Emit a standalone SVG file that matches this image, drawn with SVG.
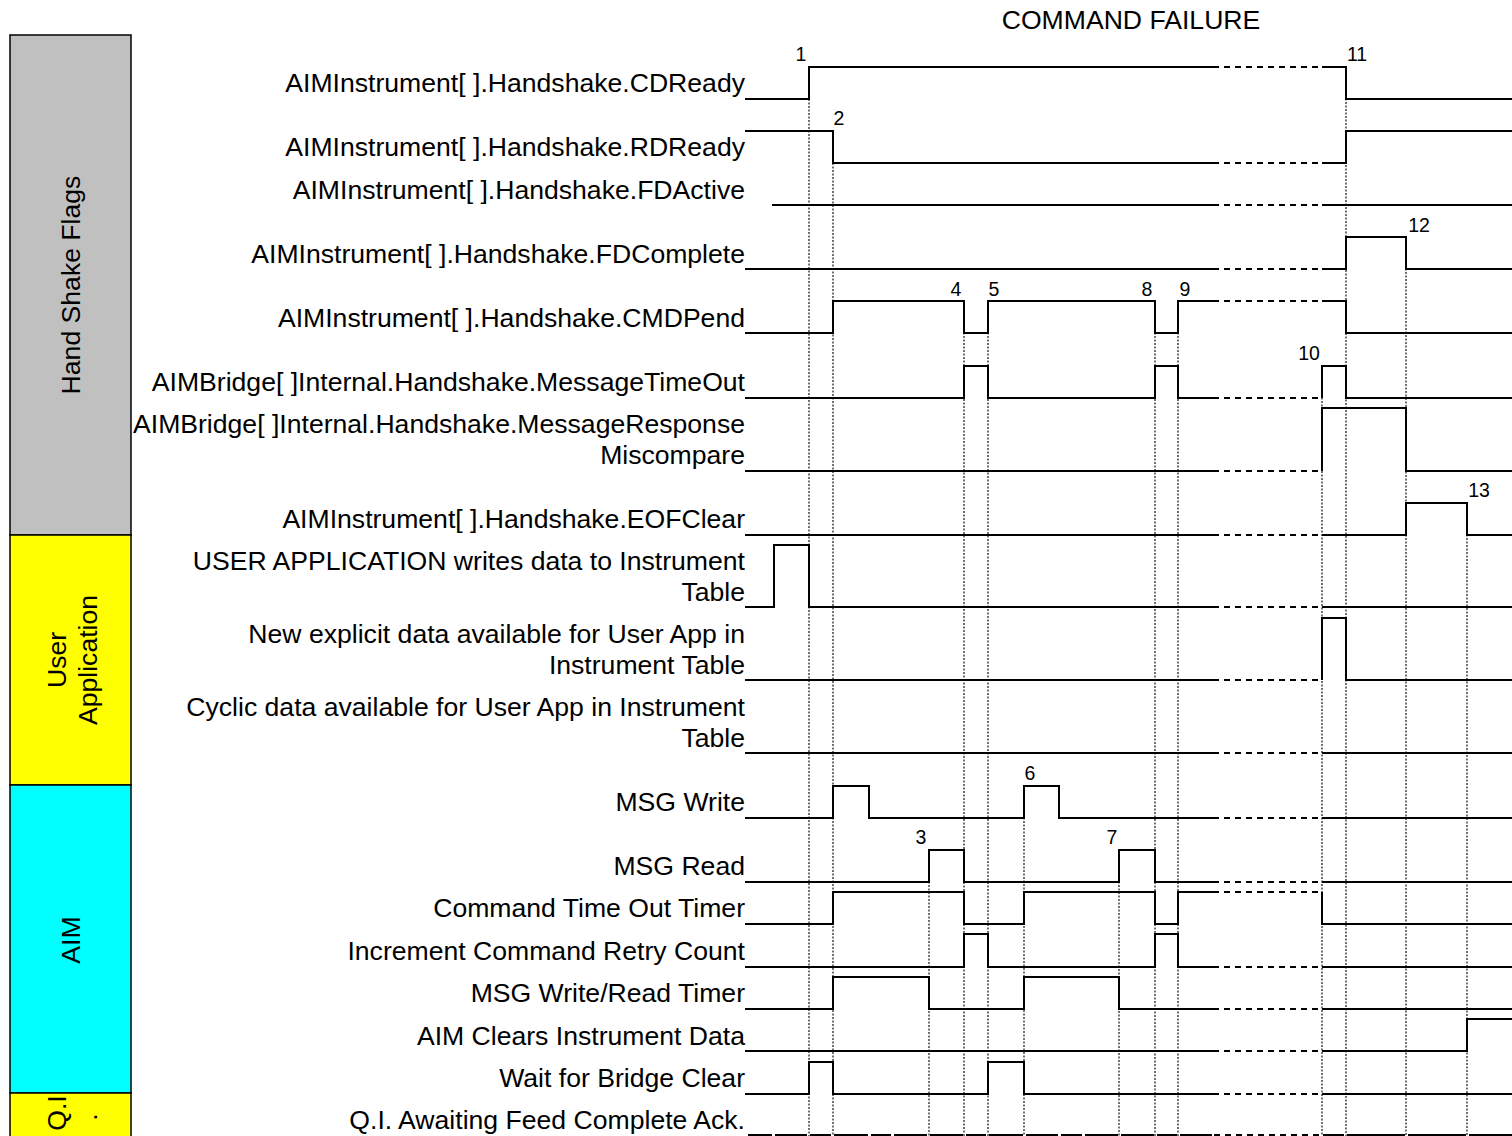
<svg xmlns="http://www.w3.org/2000/svg" width="1512" height="1136" viewBox="0 0 1512 1136">
<style>
.sig{fill:none;stroke:#000;stroke-width:2}
.brk{fill:none;stroke:#000;stroke-width:2;stroke-dasharray:6 5}
.grid{fill:none;stroke:#444;stroke-width:1.5;stroke-dasharray:2 1.5}
.lbl{font-family:"Liberation Sans",Arial,sans-serif;font-size:26.6px;text-anchor:end;fill:#000}
.side{font-family:"Liberation Sans",Arial,sans-serif;font-size:26.6px;text-anchor:middle;fill:#000}
.num{font-family:"Liberation Sans",Arial,sans-serif;font-size:19.5px;text-anchor:middle;fill:#000}
.band{stroke:#000;stroke-width:1.5}
</style>
<rect width="1512" height="1136" fill="#fff"/>

<g id="sidebar">
  <rect class="band" x="10" y="35" width="121" height="500" fill="#c0c0c0"/>
  <rect class="band" x="10" y="535" width="121" height="250" fill="#ffff00"/>
  <rect class="band" x="10" y="785" width="121" height="308" fill="#00ffff"/>
  <rect class="band" x="10" y="1093" width="121" height="44" fill="#ffff00"/>
  <text class="side" transform="translate(80,285) rotate(-90)">Hand Shake Flags</text>
  <text class="side" transform="translate(66,660) rotate(-90)">User</text>
  <text class="side" transform="translate(97,660) rotate(-90)">Application</text>
  <text class="side" transform="translate(80,940) rotate(-90)">AIM</text>
  <text class="side" transform="translate(66,1113) rotate(-90)">Q.I</text>
  <text class="side" transform="translate(97,1117) rotate(-90)">.</text>
</g>

<text id="title" x="1131" y="29" font-family="Liberation Sans, Arial, sans-serif" font-size="26.6" text-anchor="middle">COMMAND FAILURE</text>

<g id="gridlines">
  <path class="grid" d="M809,99V1136 M833,163V1136 M929,850V1136 M964,301V1136 M988,301V1136 M1024,786V1136 M1119,850V1136 M1155,301V1136 M1178,301V1136 M1322,366V1136 M1346,67V1136 M1406,237V1136 M1467,503V1136"/>
</g>

<g id="sig-cdready">
  <text class="lbl" x="745" y="92">AIMInstrument[ ].Handshake.CDReady</text>
  <path class="sig" d="M745,99H809V67H1213"/><path class="brk" d="M1213,67H1322"/><path class="sig" d="M1322,67H1346V99H1512"/>
</g>
<g id="sig-rdready">
  <text class="lbl" x="745" y="156">AIMInstrument[ ].Handshake.RDReady</text>
  <path class="sig" d="M745,131H833V163H1213"/><path class="brk" d="M1213,163H1322"/><path class="sig" d="M1322,163H1346V131H1512"/>
</g>
<g id="sig-fdactive">
  <text class="lbl" x="745" y="199">AIMInstrument[ ].Handshake.FDActive</text>
  <path class="sig" d="M772,205H1213"/><path class="brk" d="M1213,205H1322"/><path class="sig" d="M1322,205H1512"/>
</g>
<g id="sig-fdcomplete">
  <text class="lbl" x="745" y="263">AIMInstrument[ ].Handshake.FDComplete</text>
  <path class="sig" d="M745,269H1213"/><path class="brk" d="M1213,269H1322"/><path class="sig" d="M1322,269H1346V237H1406V269H1512"/>
</g>
<g id="sig-cmdpend">
  <text class="lbl" x="745" y="327">AIMInstrument[ ].Handshake.CMDPend</text>
  <path class="sig" d="M745,333H833V301H964V333H988V301H1155V333H1178V301H1213"/><path class="brk" d="M1213,301H1322"/><path class="sig" d="M1322,301H1346V333H1512"/>
</g>
<g id="sig-timeout">
  <text class="lbl" x="745" y="391">AIMBridge[ ]Internal.Handshake.MessageTimeOut</text>
  <path class="sig" d="M745,398H964V366H988V398H1155V366H1178V398H1213"/><path class="brk" d="M1213,398H1322"/><path class="sig" d="M1322,398V366H1346V398H1512"/>
</g>
<g id="sig-miscompare">
  <text class="lbl" x="745" y="433">AIMBridge[ ]Internal.Handshake.MessageResponse</text>
  <text class="lbl" x="745" y="464">Miscompare</text>
  <path class="sig" d="M745,471H1213"/><path class="brk" d="M1213,471H1322"/><path class="sig" d="M1322,471V408H1406V471H1512"/>
</g>
<g id="sig-eofclear">
  <text class="lbl" x="745" y="528">AIMInstrument[ ].Handshake.EOFClear</text>
  <path class="sig" d="M745,535H1213"/><path class="brk" d="M1213,535H1322"/><path class="sig" d="M1322,535H1406V503H1467V535H1512"/>
</g>
<g id="sig-userwrite">
  <text class="lbl" x="745" y="570">USER APPLICATION writes data to Instrument</text>
  <text class="lbl" x="745" y="601">Table</text>
  <path class="sig" d="M745,607H774V545H809V607H1213"/><path class="brk" d="M1213,607H1322"/><path class="sig" d="M1322,607H1512"/>
</g>
<g id="sig-explicit">
  <text class="lbl" x="745" y="643">New explicit data available for User App in</text>
  <text class="lbl" x="745" y="674">Instrument Table</text>
  <path class="sig" d="M745,680H1213"/><path class="brk" d="M1213,680H1322"/><path class="sig" d="M1322,680V618H1346V680H1512"/>
</g>
<g id="sig-cyclic">
  <text class="lbl" x="745" y="716">Cyclic data available for User App in Instrument</text>
  <text class="lbl" x="745" y="747">Table</text>
  <path class="sig" d="M745,753H1213"/><path class="brk" d="M1213,753H1322"/><path class="sig" d="M1322,753H1512"/>
</g>
<g id="sig-msgwrite">
  <text class="lbl" x="745" y="811">MSG Write</text>
  <path class="sig" d="M745,818H833V786H869V818H1024V786H1059V818H1213"/><path class="brk" d="M1213,818H1322"/><path class="sig" d="M1322,818H1512"/>
</g>
<g id="sig-msgread">
  <text class="lbl" x="745" y="875">MSG Read</text>
  <path class="sig" d="M745,882H929V850H964V882H1119V850H1155V882H1213"/><path class="brk" d="M1213,882H1322"/><path class="sig" d="M1322,882H1512"/>
</g>
<g id="sig-cmdtimer">
  <text class="lbl" x="745" y="917">Command Time Out Timer</text>
  <path class="sig" d="M745,924H833V892H964V924H1024V892H1155V924H1178V892H1213"/><path class="brk" d="M1213,892H1322"/><path class="sig" d="M1322,892V924H1512"/>
</g>
<g id="sig-retry">
  <text class="lbl" x="745" y="960">Increment Command Retry Count</text>
  <path class="sig" d="M745,967H964V934H988V967H1155V934H1178V967H1213"/><path class="brk" d="M1213,967H1322"/><path class="sig" d="M1322,967H1512"/>
</g>
<g id="sig-wrtimer">
  <text class="lbl" x="745" y="1002">MSG Write/Read Timer</text>
  <path class="sig" d="M745,1009H833V977H929V1009H1024V977H1119V1009H1213"/><path class="brk" d="M1213,1009H1322"/><path class="sig" d="M1322,1009H1512"/>
</g>
<g id="sig-aimclears">
  <text class="lbl" x="745" y="1045">AIM Clears Instrument Data</text>
  <path class="sig" d="M745,1051H1213"/><path class="brk" d="M1213,1051H1322"/><path class="sig" d="M1322,1051H1467V1019H1512"/>
</g>
<g id="sig-bridgeclear">
  <text class="lbl" x="745" y="1087">Wait for Bridge Clear</text>
  <path class="sig" d="M745,1094H809V1062H833V1094H988V1062H1024V1094H1213"/><path class="brk" d="M1213,1094H1322"/><path class="sig" d="M1322,1094H1512"/>
</g>
<g id="sig-qi">
  <text class="lbl" x="745" y="1129">Q.I. Awaiting Feed Complete Ack.</text>
  <path class="sig" d="M748,1135H772M775,1135H807M810,1135H831M834,1135H868M871,1135H891M894,1135H927M930,1135H963M966,1135H986M989,1135H1023M1026,1135H1058M1061,1135H1082M1085,1135H1118M1121,1135H1154M1157,1135H1177M1180,1135H1212"/>
  <path class="brk" d="M1214,1135H1320"/>
  <path class="sig" d="M1323,1135H1344M1347,1135H1405M1408,1135H1466M1469,1135H1512"/>
</g>

<g id="event-numbers">
  <text class="num" x="801" y="61">1</text>
  <text class="num" x="839" y="125">2</text>
  <text class="num" x="921" y="844">3</text>
  <text class="num" x="956" y="296">4</text>
  <text class="num" x="994" y="296">5</text>
  <text class="num" x="1030" y="780">6</text>
  <text class="num" x="1112" y="844">7</text>
  <text class="num" x="1147" y="296">8</text>
  <text class="num" x="1185" y="296">9</text>
  <text class="num" x="1309" y="360">10</text>
  <text class="num" x="1357" y="61">11</text>
  <text class="num" x="1419" y="232">12</text>
  <text class="num" x="1479" y="497">13</text>
</g>
</svg>
